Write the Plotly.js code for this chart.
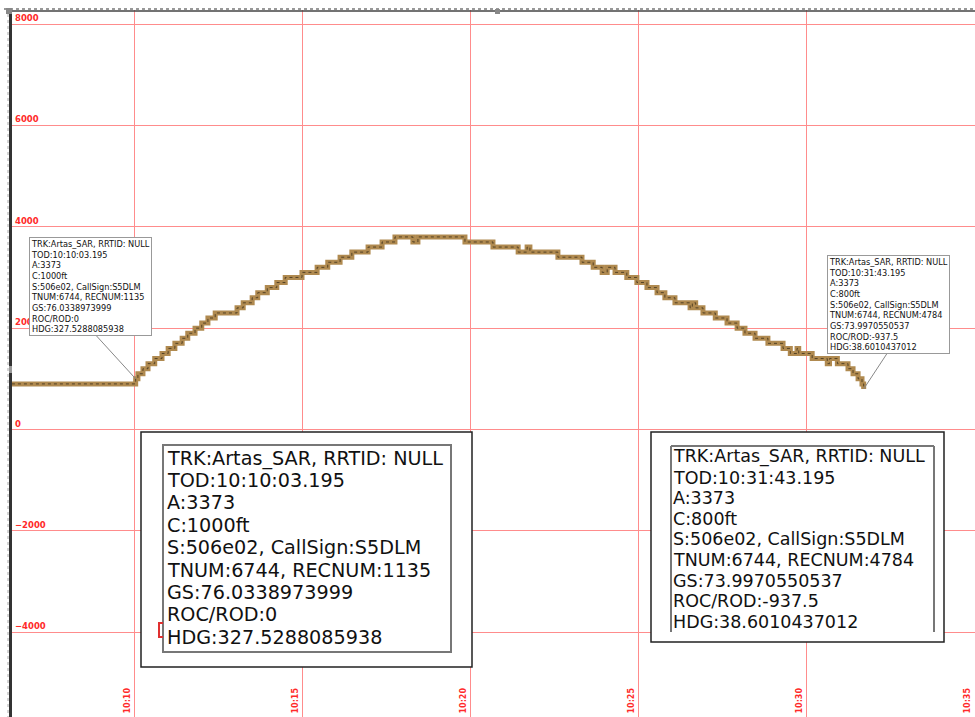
<!DOCTYPE html>
<html>
<head>
<meta charset="utf-8">
<script src="https://cdn.plot.ly/plotly-3.0.1.min.js"></script>
<style>html,body{margin:0;padding:0;background:#fff;}#chart{width:975px;height:717px;}</style>
</head>
<body>
<div id="chart"></div>
<script>
// ---- data (time of day, altitude in ft) ----
const DAY = '2024-01-01 ';
const times = ['10:06:22','10:10:03','10:10:07','10:10:16','10:10:25','10:10:37','10:10:50','10:11:01','10:11:13','10:11:26',
  '10:11:36','10:11:49','10:12:01','10:12:12','10:12:25','10:13:04','10:13:15','10:13:31','10:13:41','10:13:58',
  '10:14:15','10:14:30','10:15:00','10:15:27','10:15:46','10:16:08','10:16:29','10:16:58','10:17:23','10:17:46',
  '10:18:18','10:18:27','10:19:51','10:20:41','10:21:26','10:21:42','10:21:47','10:22:37','10:23:20','10:23:40',
  '10:23:56','10:24:05','10:24:19','10:24:40','10:24:58','10:25:16','10:25:34','10:25:48','10:26:06','10:26:33',
  '10:26:37','10:26:43','10:26:56','10:27:18','10:27:39','10:27:57','10:28:11','10:28:29','10:28:52','10:29:19',
  '10:29:32','10:29:44','10:29:47','10:30:11','10:30:38','10:30:42','10:30:56','10:31:15','10:31:24','10:31:33',
  '10:31:40','10:31:43'];
const altitude = [900,1000,1100,1200,1300,1400,1500,1600,1700,1800,
  1900,2000,2100,2200,2300,2400,2500,2600,2700,2800,
  2900,3000,3100,3200,3300,3400,3500,3600,3700,3800,
  3700,3800,3700,3600,3500,3600,3500,3400,3300,3200,
  3100,3200,3100,3000,2900,2800,2700,2600,2500,2400,
  2500,2400,2300,2200,2100,2000,1900,1800,1700,1600,
  1500,1600,1500,1400,1300,1400,1300,1200,1100,1000,
  900,800];
const xRange = ['10:06:22.1429','10:35:01.7857'];
const yRange = [-5672, 8277];
const yTicks = [-4000,-2000,0,2000,4000,6000,8000];
const xTicks = ['10:10','10:15','10:20','10:25','10:30','10:35'];

// annotation contents
const pt1 = {t:'10:10:03', alt:1000};
const pt2 = {t:'10:31:43', alt:800};
const info1 = ['TRK:Artas_SAR, RRTID: NULL','TOD:10:10:03.195','A:3373','C:1000ft','S:506e02, CallSign:S5DLM',
  'TNUM:6744, RECNUM:1135','GS:76.0338973999','ROC/ROD:0','HDG:327.5288085938'];
const info2 = ['TRK:Artas_SAR, RRTID: NULL','TOD:10:31:43.195','A:3373','C:800ft','S:506e02, CallSign:S5DLM',
  'TNUM:6744, RECNUM:4784','GS:73.9970550537','ROC/ROD:-937.5','HDG:38.6010437012'];

// ---- layout helpers (pixel -> paper) ----
const W = 975, H = 717, ML = 12, MT = 10;
const PW = W - ML, PH = H - MT;
const px = x => (x - ML) / PW;
const py = y => (H - y) / PH;

const xs = times.map(t => DAY + t);
const red = '#ff2a2a';
const grid = '#ff8c8c';
const FF = 'DejaVu Sans, Verdana, sans-serif';

const traces = [
  {x: xs, y: altitude, type:'scatter', mode:'lines', line:{shape:'hv', color:'#b08a50', width:5}, hoverinfo:'skip'},
  {x: xs, y: altitude, type:'scatter', mode:'lines', line:{shape:'hv', color:'#4a3a20', width:0.9, dash:'dot'}, hoverinfo:'skip'}
];

const shapes = [
  // outer frames of big boxes
  {type:'rect', xref:'paper', yref:'paper', x0:px(141), x1:px(472), y0:py(667), y1:py(432), line:{color:'#222', width:1.5}, fillcolor:'#fff', layer:'above'},
  {type:'rect', xref:'paper', yref:'paper', x0:px(651), x1:px(944), y0:py(642), y1:py(432), line:{color:'#222', width:1.5}, fillcolor:'#fff', layer:'above'},
  // inner frame box A
  {type:'rect', xref:'paper', yref:'paper', x0:px(163), x1:px(451), y0:py(652), y1:py(445), line:{color:'#777', width:2}, layer:'above'},
  // small red mark in box A
  {type:'path', xref:'paper', yref:'paper', path:`M${px(163)},${py(623)} L${px(159)},${py(623)} L${px(159)},${py(637)} L${px(163)},${py(637)}`, line:{color:'#e03030', width:2}, layer:'above'},
  // inner frame box B (no bottom)
  {type:'line', xref:'paper', yref:'paper', x0:px(671), x1:px(934), y0:py(446), y1:py(446), line:{color:'#777', width:2}, layer:'above'},
  {type:'line', xref:'paper', yref:'paper', x0:px(671), x1:px(671), y0:py(446), y1:py(632), line:{color:'#777', width:2}, layer:'above'},
  {type:'line', xref:'paper', yref:'paper', x0:px(934), x1:px(934), y0:py(446), y1:py(632), line:{color:'#777', width:2}, layer:'above'},
  // window frame
  {type:'line', xref:'paper', yref:'paper', x0:px(4), x1:1, y0:py(9), y1:py(9), line:{color:'#999', width:2, dash:'dot'}, layer:'above'},
  {type:'line', xref:'paper', yref:'paper', x0:px(9), x1:1, y0:py(11), y1:py(11), line:{color:'#444', width:1.5}, layer:'above'},
  {type:'line', xref:'paper', yref:'paper', x0:px(10.5), x1:px(10.5), y0:py(8), y1:0, line:{color:'#333', width:3}, layer:'above'},
  {type:'line', xref:'paper', yref:'paper', x0:px(8), x1:px(8), y0:py(8), y1:0, line:{color:'#aaa', width:1, dash:'dot'}, layer:'above'},
  {type:'rect', xref:'paper', yref:'paper', x0:px(6), x1:px(12), y0:py(14), y1:py(8), line:{width:0}, fillcolor:'#888', layer:'above'},
  {type:'rect', xref:'paper', yref:'paper', x0:px(495), x1:px(500), y0:py(14), y1:py(9), line:{width:0}, fillcolor:'#888', layer:'above'},
  {type:'rect', xref:'paper', yref:'paper', x0:px(9), x1:px(12), y0:py(373), y1:py(366), line:{width:0}, fillcolor:'#999', layer:'above'}
];

const annotations = [];
// small callout boxes near the data points
function callout(pt, info, dx, dy, tailx, taily) {
  annotations.push({x: DAY+pt.t, y: pt.alt, xref:'x', yref:'y', text:'', showarrow:true, arrowhead:0, arrowwidth:1,
    arrowcolor:'#888', ax:tailx, ay:taily, standoff:0, startstandoff:0});
  annotations.push({x: DAY+pt.t, y: pt.alt, xref:'x', yref:'y', text: info.join('<br>'), showarrow:false,
    xshift:dx, yshift:dy, align:'left', bgcolor:'#fff', bordercolor:'#999', borderwidth:1, borderpad:1,
    font:{family:FF, size:8.2, color:'#111'}});
}
callout(pt1, info1, -45, 92, -42, -46);
callout(pt2, info2, 25, 84, 25, -38);

// big overlay boxes, one annotation per line
function bigBox(info, left, firstY, step, size) {
  info.forEach((line, i) => {
    annotations.push({x: px(left), y: py(firstY + i*step), xref:'paper', yref:'paper', xanchor:'left', yanchor:'middle',
      text: line, showarrow:false, font:{family:FF, size:size, color:'#111'}});
  });
}
bigBox(info1, 165, 458, 22.4, 19.2);
bigBox(info2, 671, 457, 20.6, 17.5);

// x tick labels, rotated, inside the plot at the bottom
xTicks.forEach(t => {
  annotations.push({x: DAY+t, y: 0, xref:'x', yref:'paper', xanchor:'right', yanchor:'bottom', xshift:-1, yshift:1,
    text: t, textangle:-90, showarrow:false, font:{family:FF, size:8, color:red, weight:'bold'}});
});

const layout = {
  width: W, height: H,
  margin: {l:ML, r:0, t:MT, b:0, pad:0},
  paper_bgcolor:'#fff', plot_bgcolor:'#fff',
  showlegend:false,
  xaxis: {type:'date', range: xRange.map(t => DAY + t), dtick:300000, tick0: DAY+'10:10:00',
    showticklabels:false, ticks:'', showline:false, zeroline:false,
    showgrid:true, gridcolor:grid, gridwidth:1},
  yaxis: {range: yRange, tickvals: yTicks, ticklabelposition:'inside top', ticks:'', showline:false, zeroline:false,
    showgrid:true, gridcolor:grid, gridwidth:1,
    tickfont:{family:FF, size:8.5, color:red, weight:'bold'}},
  shapes: shapes,
  annotations: annotations
};

Plotly.newPlot('chart', traces, layout, {displayModeBar:false});
</script>
</body>
</html>
